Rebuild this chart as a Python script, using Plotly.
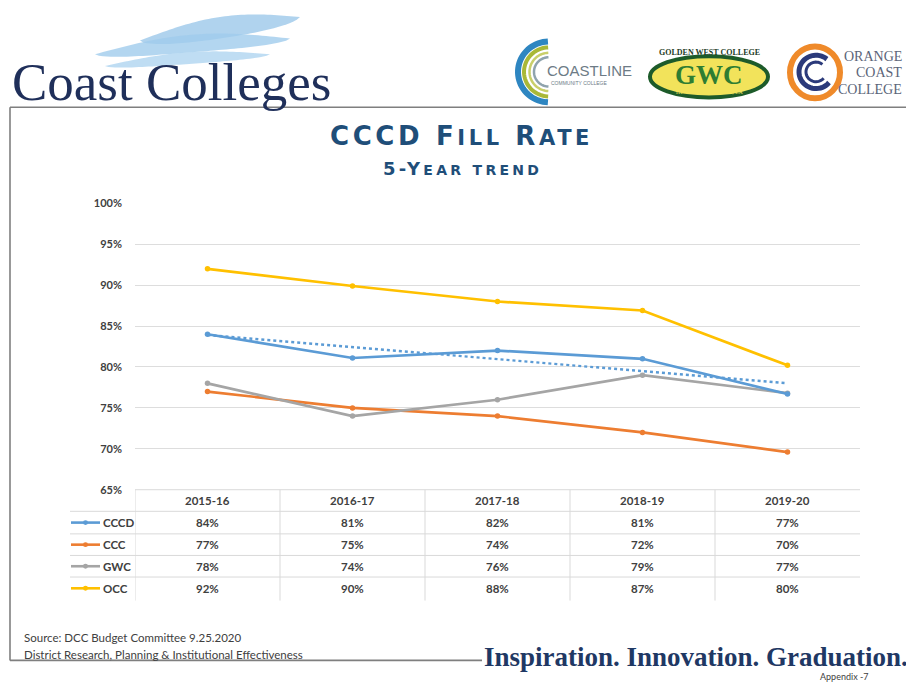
import numpy as np
import plotly.graph_objects as go

# page body adds an 8px margin; the figure is laid out in reference pixels
OFF = 8
W, H = 914 - OFF, 687 - OFF

years = ["2015-16", "2016-17", "2017-18", "2018-19", "2019-20"]
series_names = ["CCCD", "CCC", "GWC", "OCC"]
cccd = [84.0, 81.1, 82.0, 81.0, 76.7]
ccc = [77.0, 75.0, 74.0, 72.0, 69.6]
gwc = [78.0, 74.0, 76.0, 79.0, 76.8]
occ = [92.0, 89.9, 88.0, 86.9, 80.2]
y_ticks = [65, 70, 75, 80, 85, 90, 95, 100]

colors = {"CCCD": "#5B9BD5", "CCC": "#ED7D31", "GWC": "#A5A5A5", "OCC": "#FFC000"}
values = {"CCCD": cccd, "CCC": ccc, "GWC": gwc, "OCC": occ}


def px(x):
    return (x - OFF) / W


def py(y):
    return 1 - (y - OFF) / H


xi = list(range(len(years)))

fig = go.Figure()
for name in ["CCC", "GWC", "OCC", "CCCD"]:
    fig.add_trace(go.Scatter(
        x=xi, y=values[name], mode="lines+markers", name=name,
        line=dict(color=colors[name], width=2.7),
        marker=dict(color=colors[name], size=5.5),
        showlegend=False, hoverinfo="skip"))

# linear trendline for CCCD
slope, intercept = np.polyfit(xi, cccd, 1)
trend = [slope * v + intercept for v in xi]
fig.add_trace(go.Scatter(
    x=xi, y=trend, mode="lines", line=dict(color="#5B9BD5", width=2.4, dash="dot"),
    showlegend=False, hoverinfo="skip"))

tick_font = dict(family="Lato", size=11, color="#404040", weight="bold")

fig.update_layout(
    width=W, height=H, margin=dict(l=0, r=0, t=0, b=0),
    paper_bgcolor="white", plot_bgcolor="white",
    xaxis=dict(domain=[px(135), px(860)], range=[-0.5, len(years) - 0.5],
               showgrid=False, showticklabels=False, zeroline=False, fixedrange=True),
    yaxis=dict(domain=[py(492), py(200)], range=[65, 100],
               tickvals=y_ticks, ticktext=[f"{v}%" for v in y_ticks],
               showgrid=True, gridcolor="#DDDDDD", gridwidth=1, zeroline=False,
               ticks="", tickfont=tick_font, ticklabelstandoff=12, fixedrange=True),
)

shapes = []
annotations = []


def note(x, y, text, font, xanchor="center", xref="paper"):
    annotations.append(dict(x=x, y=y, xref=xref, yref="paper", text=text, showarrow=False,
                            xanchor=xanchor, yanchor="middle", font=font))


# ---- data table ----
row_lines = [514, 537, 559, 581]
grid_c = "#D9D9D9"
shapes.append(dict(type="line", xref="paper", yref="paper", x0=px(135), x1=px(860),
                   y0=py(492), y1=py(492), line=dict(color=grid_c, width=1)))
for yl in row_lines:
    shapes.append(dict(type="line", xref="paper", yref="paper", x0=px(70), x1=px(860),
                       y0=py(yl), y1=py(yl), line=dict(color=grid_c, width=1)))
for k in range(len(years)):
    shapes.append(dict(type="line", xref="x", yref="paper", x0=k - 0.5, x1=k - 0.5,
                       y0=py(492), y1=py(605), line=dict(color=grid_c, width=1)))

cell_font = dict(family="Lato", size=11.5, color="#404040", weight="bold")
for k, yr in enumerate(years):
    note(k, py(503), yr, cell_font, xref="x")
row_y = [525.5, 548, 570, 592.5]
for r, name in enumerate(series_names):
    yc = row_y[r]
    for k in range(len(years)):
        note(k, py(yc), f"{round(values[name][k])}%", cell_font, xref="x")
    note(px(101), py(yc), name, cell_font, xanchor="left")
    shapes.append(dict(type="line", xref="paper", yref="paper", x0=px(71), x1=px(100),
                       y0=py(yc), y1=py(yc), line=dict(color=colors[name], width=2.6)))
    shapes.append(dict(type="circle", xref="paper", yref="paper", x0=px(83), x1=px(88),
                       y0=py(yc + 2.5), y1=py(yc - 2.5), fillcolor=colors[name],
                       line=dict(width=0)))

# ---- frame ----
frame_c = "#7F7F7F"
shapes += [
    dict(type="line", xref="paper", yref="paper", x0=px(10), x1=px(908), y0=py(102), y1=py(102),
         line=dict(color=frame_c, width=1.6)),
    dict(type="line", xref="paper", yref="paper", x0=px(10), x1=px(10), y0=py(102), y1=py(666),
         line=dict(color=frame_c, width=1.6)),
    dict(type="line", xref="paper", yref="paper", x0=px(908), x1=px(908), y0=py(102), y1=py(650),
         line=dict(color=frame_c, width=1.6)),
    dict(type="line", xref="paper", yref="paper", x0=px(10), x1=px(482), y0=py(666), y1=py(666),
         line=dict(color=frame_c, width=1.6)),
]

# ---- title ----
navy = "#1F4E79"
note(px(461), py(131),
     ("<span style='letter-spacing:3.6px'>CCCD F<span style='font-size:21px'>ILL</span> "
      "R<span style='font-size:21px'>ATE</span></span>"),
     dict(family="DejaVu Sans", size=26, color=navy, weight="bold"))
note(px(462), py(164),
     "<span style='letter-spacing:3.3px'>5-Y<span style='font-size:14px'>EAR TREND</span></span>",
     dict(family="DejaVu Sans", size=18, color=navy, weight="bold"))

# ---- footer ----
src_font = dict(family="Lato", size=11.5, color="#404040")
note(px(22), py(643), "Source: DCC Budget Committee 9.25.2020", src_font, xanchor="left")
note(px(22), py(660), "District Research, Planning &amp; Institutional Effectiveness", src_font,
     xanchor="left")
note(px(910), py(663), "Inspiration. Innovation. Graduation.",
     dict(family="Liberation Serif", size=27, color="#1F3864", weight="bold"), xanchor="right")
note(px(871), py(682), "Appendix -7", dict(family="Lato", size=9, color="#404040"), xanchor="right")


# ---- Coast Colleges logo ----
def path_from(points):
    return "M " + " L ".join(f"{px(a):.5f},{py(b):.5f}" for a, b in points) + " Z"


def wave(x0, x1, ytop0, ytop1, thick, amp, n=50):
    t = np.linspace(0, 1, n)
    xs = x0 + (x1 - x0) * t
    top = ytop0 + (ytop1 - ytop0) * t - amp * np.sin(np.pi * t)
    th = thick * np.sin(np.pi * t) ** 0.7
    upper = list(zip(xs, top))
    lower = list(zip(xs[::-1], (top + th)[::-1]))
    return path_from(upper + lower)


for (a, b, c, d, th, amp, col) in [
        (140, 300, 34, 10, 22, 12, "rgba(150,196,232,0.75)"),
        (95, 290, 48, 32, 18, 12, "rgba(160,204,236,0.8)"),
        (105, 270, 60, 48, 12, 8, "rgba(175,212,240,0.8)")]:
    shapes.append(dict(type="path", xref="paper", yref="paper", path=wave(a, b, c, d, th, amp),
                       fillcolor=col, line=dict(width=0), layer="below"))

note(px(10), py(76), "Coast Colleges",
     dict(family="Liberation Serif", size=53, color="#1F2F5A"), xanchor="left")


# ---- Coastline logo ----
def arc_pts(cx, cy, r, a0, a1, n=40):
    ang = np.radians(np.linspace(a0, a1, n))
    return [(cx + r * np.cos(t), cy - r * np.sin(t)) for t in ang]


for r, col, wdt in [(31, "#2E86C1", 6), (25, "#A9B837", 4), (19.5, "#C9CF6A", 2.5), (15, "#8FA3AD", 2.5)]:
    pts = arc_pts(549, 66, r, 92, 268)
    p = "M " + " L ".join(f"{px(a):.5f},{py(b):.5f}" for a, b in pts)
    shapes.append(dict(type="path", xref="paper", yref="paper", path=p,
                       line=dict(color=col, width=wdt)))
note(px(545), py(65), "COASTLINE",
     dict(family="Liberation Sans Narrow, Liberation Sans", size=15, color="#6D7B86"), xanchor="left")
note(px(549), py(77), "COMMUNITY COLLEGE",
     dict(family="Liberation Sans", size=5, color="#6D7B86"), xanchor="left")

# ---- GWC logo ----
shapes.append(dict(type="circle", xref="paper", yref="paper", x0=px(650), x1=px(768),
                   y0=py(92), y1=py(50), fillcolor="#F2E35B", line=dict(color="#1D5B2A", width=4)))
note(px(709), py(69), "GWC", dict(family="Liberation Serif", size=27, color="#2E7D32", weight="bold"))
note(px(709), py(46), "GOLDEN WEST COLLEGE",
     dict(family="Liberation Serif", size=8, color="#1D3B1F", weight="bold"))
note(px(709), py(86), "HUNTINGTON BEACH, CA",
     dict(family="Liberation Serif", size=5.5, color="#F2E35B"))

# ---- OCC logo ----
shapes.append(dict(type="circle", xref="paper", yref="paper", x0=px(790), x1=px(840),
                   y0=py(93), y1=py(40), fillcolor="white", line=dict(color="#EF8A2A", width=6)))
for r, col, wdt in [(17, "#2B3A7A", 5), (10, "#2B3A7A", 3)]:
    pts = arc_pts(816, 66, r, 50, 320)
    p = "M " + " L ".join(f"{px(a):.5f},{py(b):.5f}" for a, b in pts)
    shapes.append(dict(type="path", xref="paper", yref="paper", path=p, line=dict(color=col, width=wdt)))
occ_font = dict(family="Liberation Serif", size=14, color="#5B6478")
for txt, yy in [("ORANGE", 50), ("COAST", 67), ("COLLEGE", 84)]:
    note(px(904), py(yy), txt, occ_font, xanchor="right")

fig.update_layout(shapes=shapes, annotations=annotations)
fig.write_html("out.html")
